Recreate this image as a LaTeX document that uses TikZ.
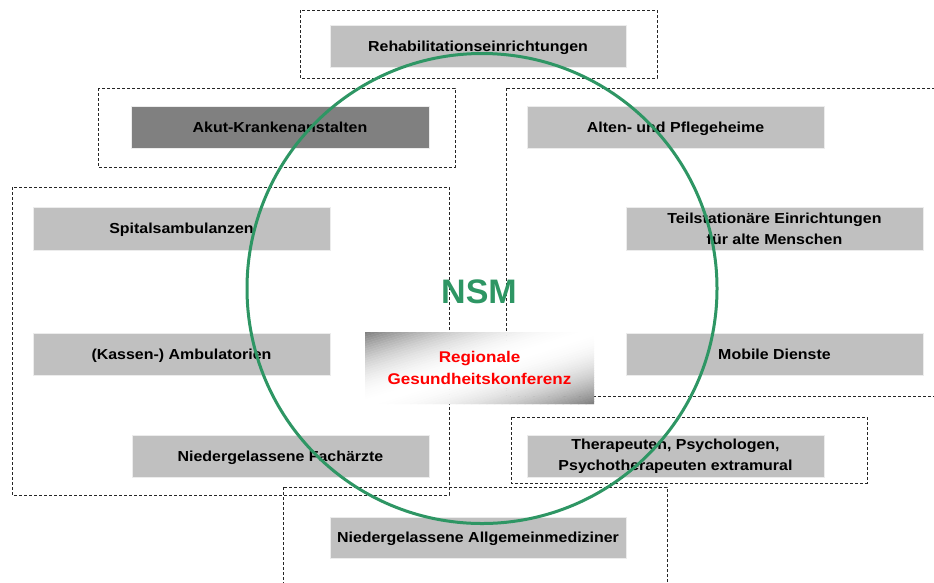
\documentclass[tikz,border=0pt]{standalone}
\usepackage{fontspec}
\setmainfont{Liberation Sans}
\newfontfamily\boxfont[FakeStretch=1.1]{Liberation Sans}
\definecolor{boxgray}{RGB}{192,192,192}
\definecolor{darkbox}{RGB}{128,128,128}
\definecolor{nsmgreen}{RGB}{46,150,100}
\definecolor{gradgray}{RGB}{125,125,125}
\tikzset{
  gbox/.style={rectangle, fill=boxgray, draw=white!85!gray, line width=0.8pt,
    minimum width=297pt, minimum height=42pt, inner sep=0pt, align=center,
    font=\boxfont\bfseries\fontsize{14.5}{21}\selectfont, text=black},
  oneline/.style={text height=10.4pt, text depth=0pt},
  dbox/.style={gbox, fill=darkbox},
  group/.style={draw=black!85, line width=0.8pt, dash pattern=on 3pt off 2pt},
}
\begin{document}
\begin{tikzpicture}[x=1pt,y=-1pt]
\useasboundingbox (0,0) rectangle (934,582);
\clip (0,0) rectangle (934,582);
% dashed groups
\draw[group] (300,10) rectangle (657,78);
\draw[group] (98,88) rectangle (455,167);
\draw[group] (506,88) rectangle (945,396);
\draw[group] (12,187) rectangle (449,495);
\draw[group] (511,417) rectangle (867,483);
\draw[group] (283,487) rectangle (667,595);
% boxes
\node[gbox, oneline, minimum width=296pt] (rehab) at (478,46) {Rehabilitationseinrichtungen};
\node[dbox, oneline, minimum width=298pt] (akut) at (280,127) {Akut-Krankenanstalten};
\node[gbox, oneline] (alten) at (675.5,127) {Alten- und Pflegeheime};
\node[gbox, minimum height=43pt] (teil) at (774.5,228.5) {Teilstationäre Einrichtungen\\für alte Menschen};
\node[gbox, oneline] (mobile) at (774.5,354) {Mobile Dienste};
\node[gbox, oneline, minimum height=43pt] (spital) at (181.5,228.5) {Spitalsambulanzen};
\node[gbox, oneline] (kassen) at (181.5,354) {(Kassen-) Ambulatorien};
\node[gbox, oneline] (fach) at (280.5,456) {Niedergelassene Fachärzte};
\node[gbox] (ther) at (675.5,456) {Therapeuten, Psychologen,\\Psychotherapeuten extramural};
\node[gbox, oneline, minimum width=296pt, minimum height=41pt] (allg) at (478,537.5) {Niedergelassene Allgemeinmediziner};
% circle
\node[circle, draw=nsmgreen, line width=3pt, minimum size=470pt, inner sep=0pt] (nsmc) at (482,288.5) {};
\node[text=nsmgreen, font=\bfseries\fontsize{34}{40}\selectfont] (nsm) at (479,292) {NSM};
% regional conference: diagonal gradient built from strips
\begin{scope}
  \clip (365,332) rectangle (594,404);
  \foreach \k in {0,...,59} {
    \pgfmathsetmacro{\ca}{\k/30}
    \pgfmathsetmacro{\cb}{(\k+1)/30}
    \pgfmathsetmacro{\sm}{(\ca+\cb)/4}
    \pgfmathsetmacro{\pw}{100*(1-(2*\sm-1)^2)}
    \fill[white!\pw!gradgray, draw=white!\pw!gradgray, line width=0.3pt]
      (365+\ca*229,332) -- (365+\cb*229,332) -- (365+\cb*229-229,404) -- (365+\ca*229-229,404) -- cycle;
  }
\end{scope}
\node[rectangle, inner sep=0pt, minimum width=229pt, minimum height=72pt,
  align=center, text=red, font=\boxfont\bfseries\fontsize{15.5}{22}\selectfont] (rgk) at (479.5,368)
  {Regionale\\Gesundheitskonferenz};
\end{tikzpicture}
\end{document}
